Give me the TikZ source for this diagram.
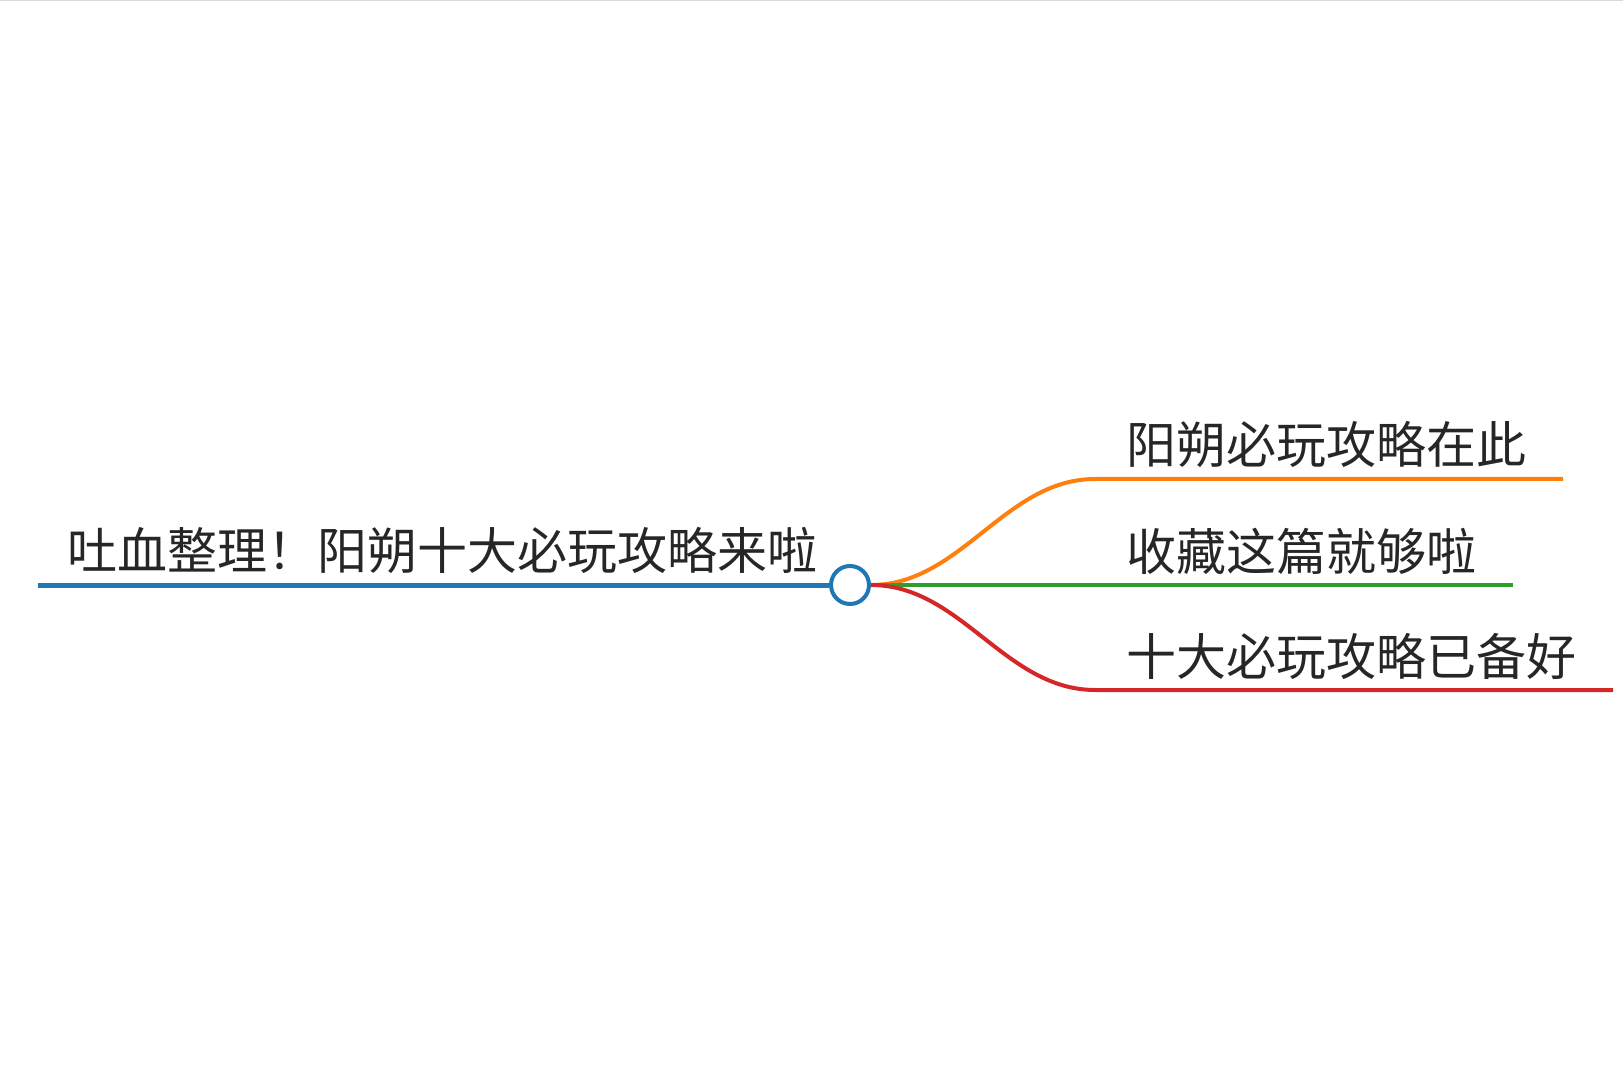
\documentclass[tikz,border=0pt]{standalone}
\usepackage{fontspec}
\newfontfamily\cjk{Noto Sans CJK SC}
\usetikzlibrary{calc}

\definecolor{mapblue}{HTML}{1F77B4}
\definecolor{maporange}{HTML}{FF7F0E}
\definecolor{mapgreen}{HTML}{2CA02C}
\definecolor{mapred}{HTML}{D62728}

\begin{document}
\begin{tikzpicture}[x=0.5pt, y=-0.5pt,
        label text/.style={font=\cjk\fontsize{25}{30}\selectfont, text=black!85, inner sep=0pt, anchor=base west},
        hub/.style={circle, draw=mapblue, fill=white, line width=2pt, minimum size=19pt, inner sep=0pt},
        branch/.style={line width=2pt}]
        \useasboundingbox (0, 0) rectangle (1623, 1080);
        \draw[black!15, line width=0.5pt] (0, 1) -- (1623, 1);

        \coordinate (S) at (38, 585);
        \coordinate (C) at (850, 585);
        \coordinate (A) at (1095, 479); % upper branch
        \coordinate (Ae) at (1563, 479);
        \coordinate (Be) at (1513, 585);
        \coordinate (R) at (1095, 690); % lower branch
        \coordinate (Re) at (1613, 690);

        \node[hub] (H) at (C) {};

        \draw[mapblue, line width=2.5pt] (S) -- (H.west);

        \begin{scope}[branch]
            \draw[maporange] (H.east) .. controls ($(H.east) + (90, 0)$) and ($(A) + (-90, 0)$) .. (A) -- (Ae);
            \draw[mapgreen] (H.east) -- (Be);
            \draw[mapred] (H.east) .. controls ($(H.east) + (90, 0)$) and ($(R) + (-90, 0)$) .. (R) -- (Re);
        \end{scope}

        \path (S) ++(29, -16) node[label text] (title) {吐血整理！阳朔十大必玩攻略来啦};
        \path (A) ++(31, -15) node[label text] (top) {阳朔必玩攻略在此};
        \path (Be -| A) ++(31, -15) node[label text] (mid) {收藏这篇就够啦};
        \path (R) ++(31, -15) node[label text] (bot) {十大必玩攻略已备好};

    \end{tikzpicture}
\end{document}
